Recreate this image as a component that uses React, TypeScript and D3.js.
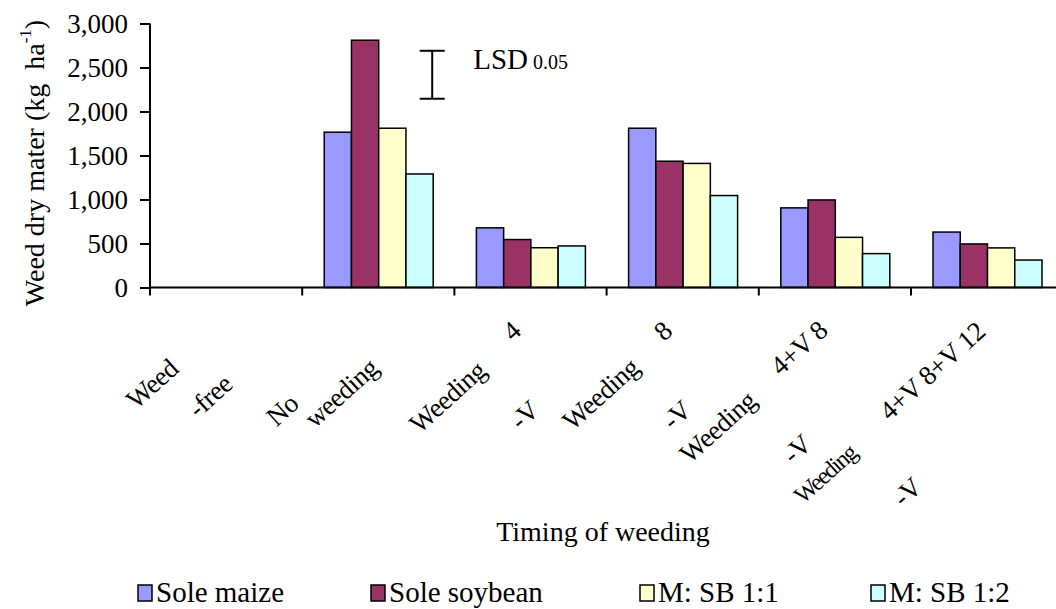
import React, { useEffect, useRef } from 'react';
import * as d3 from 'd3';

// data
const categories = [
  'Weed free',
  'No weeding',
  'Weeding 4-V',
  'Weeding 8-V',
  'Weeding 4+V 8-V',
  'Weeding 4+V 8+V 12-V',
];
const seriesNames = ['Sole maize', 'Sole soybean', 'M: SB 1:1', 'M: SB 1:2'];
const soleMaize = [0, 1765, 678, 1810, 905, 630];
const soleSoybean = [0, 2810, 545, 1435, 995, 495];
const msb11 = [0, 1810, 452, 1410, 570, 450];
const msb12 = [0, 1290, 472, 1045, 385, 312];
const yTicks = [0, 500, 1000, 1500, 2000, 2500, 3000];
const lsdTop = 2690;
const lsdValue = 545;

// the x labels in the source are broken into loose rotated pieces
const labelPieces = [
  [{ t: 'Weed', dx: -74, y: 384 }, { t: '-free', dx: -16, y: 396 }],
  [{ t: 'No', dx: -96, y: 410 }, { t: 'weeding', dx: -37, y: 393 }],
  [{ t: 'Weeding', dx: -83, y: 397 }, { t: '4', dx: -19, y: 331 }, { t: '-V', dx: -6, y: 415 }],
  [{ t: 'Weeding', dx: -82, y: 394 }, { t: '8', dx: -20, y: 331 }, { t: '-V', dx: -6, y: 415 }],
  [{ t: 'Weeding', dx: -117, y: 427 }, { t: '4+V 8', dx: -36, y: 348 }, { t: '-V', dx: -38, y: 449 }],
  [{ t: 'Weeding', dx: -162, y: 474 }, { t: '4+V 8+V 12', dx: -55, y: 371 }, { t: '-V', dx: -80, y: 492 }],
];

const colors = ['#9999FF', '#993366', '#FFFFCC', '#CCFFFF'];
const legendX = [138, 371, 640, 871];
const font = 'Liberation Serif, Times New Roman, serif';

const App = () => {
  const ref = useRef<SVGSVGElement>(null);

  useEffect(() => {
    const svg = d3.select(ref.current);
    svg.selectAll('*').remove();

    const left = 150;
    const bottom = 287.5;
    const catW = 152.2;
    const series = [soleMaize, soleSoybean, msb11, msb12];
    const rows = categories.map((c, i) => ({ cat: c, vals: series.map(s => s[i]) }));

    const x0 = d3
      .scaleBand()
      .domain(categories)
      .range([left, left + catW * categories.length]);
    const x1 = d3
      .scaleBand()
      .domain(seriesNames)
      .range([22, 131]);
    const y = d3.scaleLinear().domain([0, 3000]).range([bottom, 23.5]);

    // bars
    const groups = svg
      .selectAll('g.grp')
      .data(rows)
      .enter()
      .append('g')
      .attr('class', 'grp')
      .attr('transform', d => `translate(${x0(d.cat)},0)`);
    groups
      .selectAll('rect')
      .data(d => d.vals.map((v, k) => ({ v, k })))
      .enter()
      .filter(d => d.v > 0)
      .append('rect')
      .attr('x', d => x1(seriesNames[d.k]) as number)
      .attr('y', d => y(d.v))
      .attr('width', x1.bandwidth())
      .attr('height', d => bottom - y(d.v))
      .attr('fill', d => colors[d.k])
      .attr('stroke', '#000')
      .attr('stroke-width', 1.5);

    // y axis
    const yAxis = svg
      .append('g')
      .attr('transform', `translate(${left},0)`)
      .call(
        d3
          .axisLeft(y)
          .tickValues(yTicks)
          .tickFormat(d3.format(','))
          .tickSize(10)
          .tickPadding(12),
      );
    yAxis.select('.domain').attr('stroke-width', 2).attr('d', `M0,${y(3000)}V${bottom}`);
    yAxis.selectAll('line').attr('stroke-width', 2);
    yAxis
      .selectAll('text')
      .attr('font-family', font)
      .attr('font-size', 27)
      .attr('fill', '#000');

    // x axis
    svg
      .append('line')
      .attr('x1', left)
      .attr('x2', 1056)
      .attr('y1', bottom)
      .attr('y2', bottom)
      .attr('stroke', '#000')
      .attr('stroke-width', 2);
    svg
      .selectAll('line.xt')
      .data(categories)
      .enter()
      .append('line')
      .attr('class', 'xt')
      .attr('x1', d => x0(d) as number)
      .attr('x2', d => x0(d) as number)
      .attr('y1', bottom)
      .attr('y2', bottom + 8)
      .attr('stroke', '#000')
      .attr('stroke-width', 2);

    // x labels (rotated pieces)
    categories.forEach((c, i) => {
      const cx = (x0(c) as number) + x0.bandwidth() / 2;
      labelPieces[i].forEach(p => {
        const small = i === 5 && p.t === 'Weeding';
        svg
          .append('text')
          .attr('transform', `translate(${cx + p.dx},${p.y}) rotate(-42)`)
          .attr('text-anchor', 'middle')
          .attr('dominant-baseline', 'central')
          .attr('font-family', font)
          .attr('font-size', small ? 24 : 27)
          .attr('letter-spacing', small ? -1.5 : -0.5)
          .text(p.t);
      });
    });

    // LSD bar
    const lx = (x0('No weeding') as number) + 130;
    const lsd = svg.append('g').attr('stroke', '#000').attr('stroke-width', 2);
    lsd.append('line').attr('x1', lx).attr('x2', lx).attr('y1', y(lsdTop)).attr('y2', y(lsdTop - lsdValue));
    lsd.append('line').attr('x1', lx - 12.5).attr('x2', lx + 12.5).attr('y1', y(lsdTop)).attr('y2', y(lsdTop));
    lsd
      .append('line')
      .attr('x1', lx - 12.5)
      .attr('x2', lx + 12.5)
      .attr('y1', y(lsdTop - lsdValue))
      .attr('y2', y(lsdTop - lsdValue));
    const lsdText = svg
      .append('text')
      .attr('x', lx + 41)
      .attr('y', 69)
      .attr('font-family', font)
      .attr('font-size', 29);
    lsdText.append('tspan').text('LSD');
    lsdText.append('tspan').attr('font-size', 20).attr('dx', 5).text('0.05');

    // y title
    const yt = svg
      .append('text')
      .attr('transform', `translate(44,163) rotate(-90)`)
      .attr('text-anchor', 'middle')
      .attr('font-family', font)
      .attr('font-size', 28);
    yt.append('tspan').text('Weed dry mater (kg\u00a0\u00a0ha');
    yt.append('tspan').attr('font-size', 17).attr('dy', -13).text('-1');
    yt.append('tspan').attr('dy', 13).text(')');

    // x title
    svg
      .append('text')
      .attr('x', 603)
      .attr('y', 541)
      .attr('text-anchor', 'middle')
      .attr('font-family', font)
      .attr('font-size', 28)
      .text('Timing of weeding');

    // legend
    const leg = svg
      .selectAll('g.leg')
      .data(seriesNames)
      .enter()
      .append('g')
      .attr('class', 'leg')
      .attr('transform', (d, i) => `translate(${legendX[i]},585)`);
    leg
      .append('rect')
      .attr('width', 14)
      .attr('height', 16)
      .attr('fill', (d, i) => colors[i])
      .attr('stroke', '#000')
      .attr('stroke-width', 1.5);
    leg
      .append('text')
      .attr('x', 18)
      .attr('y', 17)
      .attr('font-family', font)
      .attr('font-size', 29)
      .text(d => d);
  }, []);

  return (
    <svg
      ref={ref}
      width={1056}
      height={609}
      style={{ position: 'absolute', left: 0, top: 0, background: '#fff' }}
    />
  );
};

export default App;
